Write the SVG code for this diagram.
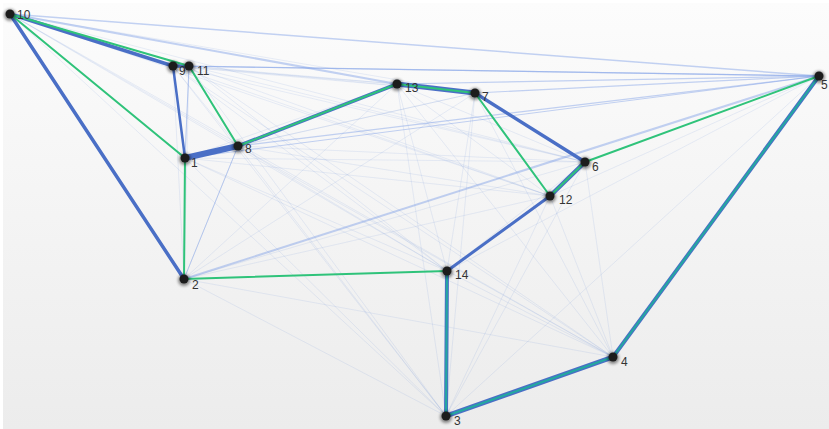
<svg xmlns="http://www.w3.org/2000/svg" width="829" height="429" viewBox="0 0 829 429">
<defs>
<linearGradient id="bg" x1="0" y1="0" x2="0" y2="1">
<stop offset="0" stop-color="#fcfcfc"/>
<stop offset="1" stop-color="#ececec"/>
</linearGradient>
<filter id="sh" x="-1" y="-1" width="3" height="3"><feGaussianBlur stdDeviation="1.6"/></filter>
<style>
.f{stroke:#5b82d8;stroke-opacity:0.12;stroke-width:1;fill:none}
.l{stroke:#7d9ee6;stroke-opacity:0.45;fill:none}
.b{stroke:#4a6fc6;fill:none;stroke-linecap:round}
.g{stroke:#2fc37a;fill:none;stroke-width:2;stroke-linecap:round}
.t{stroke:#23a8a0;fill:none;stroke-width:2;stroke-linecap:round}
.n circle.s{fill:#000;opacity:0.45}
.n circle.c{fill:#1c1c1c}
text{font-family:"Liberation Sans",Arial,sans-serif;font-size:12px;fill:#333}
</style>
</defs>
<rect x="0" y="0" width="829" height="429" fill="#ffffff"/>
<rect x="3" y="3" width="826" height="426" fill="url(#bg)"/>
<g id="connectors">
<g id="faint">
<line class="f" x1="10" y1="14" x2="189" y2="66"/>
<line class="f" x1="10" y1="14" x2="475" y2="93"/>
<line class="f" x1="10" y1="14" x2="238" y2="146"/>
<line class="f" x1="10" y1="14" x2="585" y2="162"/>
<line class="f" x1="10" y1="14" x2="550" y2="196"/>
<line class="f" x1="10" y1="14" x2="447" y2="271"/>
<line class="f" x1="10" y1="14" x2="446" y2="416"/>
<line class="f" x1="10" y1="14" x2="613" y2="357"/>
<line class="f" x1="173" y1="66" x2="397" y2="84"/>
<line class="f" x1="173" y1="66" x2="475" y2="93"/>
<line class="f" x1="173" y1="66" x2="238" y2="146"/>
<line class="f" x1="173" y1="66" x2="585" y2="162"/>
<line class="f" x1="173" y1="66" x2="550" y2="196"/>
<line class="f" x1="173" y1="66" x2="184" y2="279"/>
<line class="f" x1="173" y1="66" x2="447" y2="271"/>
<line class="f" x1="173" y1="66" x2="446" y2="416"/>
<line class="f" x1="173" y1="66" x2="613" y2="357"/>
<line class="f" x1="189" y1="66" x2="397" y2="84"/>
<line class="f" x1="189" y1="66" x2="475" y2="93"/>
<line class="f" x1="189" y1="66" x2="185" y2="158"/>
<line class="f" x1="189" y1="66" x2="585" y2="162"/>
<line class="f" x1="189" y1="66" x2="550" y2="196"/>
<line class="f" x1="189" y1="66" x2="184" y2="279"/>
<line class="f" x1="189" y1="66" x2="447" y2="271"/>
<line class="f" x1="189" y1="66" x2="446" y2="416"/>
<line class="f" x1="189" y1="66" x2="613" y2="357"/>
<line class="f" x1="397" y1="84" x2="185" y2="158"/>
<line class="f" x1="397" y1="84" x2="585" y2="162"/>
<line class="f" x1="397" y1="84" x2="550" y2="196"/>
<line class="f" x1="397" y1="84" x2="184" y2="279"/>
<line class="f" x1="397" y1="84" x2="447" y2="271"/>
<line class="f" x1="397" y1="84" x2="446" y2="416"/>
<line class="f" x1="397" y1="84" x2="613" y2="357"/>
<line class="f" x1="475" y1="93" x2="185" y2="158"/>
<line class="f" x1="475" y1="93" x2="238" y2="146"/>
<line class="f" x1="475" y1="93" x2="184" y2="279"/>
<line class="f" x1="475" y1="93" x2="447" y2="271"/>
<line class="f" x1="475" y1="93" x2="446" y2="416"/>
<line class="f" x1="475" y1="93" x2="613" y2="357"/>
<line class="f" x1="185" y1="158" x2="585" y2="162"/>
<line class="f" x1="185" y1="158" x2="550" y2="196"/>
<line class="f" x1="185" y1="158" x2="447" y2="271"/>
<line class="f" x1="185" y1="158" x2="446" y2="416"/>
<line class="f" x1="185" y1="158" x2="613" y2="357"/>
<line class="f" x1="238" y1="146" x2="585" y2="162"/>
<line class="f" x1="238" y1="146" x2="550" y2="196"/>
<line class="f" x1="238" y1="146" x2="184" y2="279"/>
<line class="f" x1="238" y1="146" x2="447" y2="271"/>
<line class="f" x1="238" y1="146" x2="446" y2="416"/>
<line class="f" x1="238" y1="146" x2="613" y2="357"/>
<line class="f" x1="585" y1="162" x2="184" y2="279"/>
<line class="f" x1="585" y1="162" x2="447" y2="271"/>
<line class="f" x1="585" y1="162" x2="446" y2="416"/>
<line class="f" x1="585" y1="162" x2="613" y2="357"/>
<line class="f" x1="550" y1="196" x2="184" y2="279"/>
<line class="f" x1="550" y1="196" x2="446" y2="416"/>
<line class="f" x1="550" y1="196" x2="613" y2="357"/>
<line class="f" x1="550" y1="196" x2="819" y2="76"/>
<line class="f" x1="184" y1="279" x2="446" y2="416"/>
<line class="f" x1="184" y1="279" x2="613" y2="357"/>
<line class="f" x1="447" y1="271" x2="613" y2="357"/>
<line class="f" x1="447" y1="271" x2="819" y2="76"/>
<line class="f" x1="446" y1="416" x2="819" y2="76"/>
<line class="f" x1="613" y1="357" x2="819" y2="76"/>
<line class="f" x1="10" y1="14" x2="184" y2="279"/>
<line class="f" x1="10" y1="14" x2="185" y2="158"/>
</g>
<g id="light">
<line class="l" x1="10" y1="14" x2="819" y2="76" stroke-width="1.5"/>
<line class="l" x1="10" y1="14" x2="397" y2="84" stroke-width="2"/>
<line class="l" x1="184" y1="279" x2="819" y2="76" stroke-width="2"/>
<line class="l" x1="189" y1="66" x2="819" y2="76" stroke-width="1.2" stroke-opacity="0.3"/>
<line class="l" x1="173" y1="66" x2="819" y2="76" stroke-width="1.2" stroke-opacity="0.3"/>
<line class="l" x1="397" y1="84" x2="819" y2="76" stroke-width="1.2" stroke-opacity="0.35"/>
<line class="l" x1="475" y1="93" x2="819" y2="76" stroke-width="1.2" stroke-opacity="0.35"/>
<line class="l" x1="238" y1="146" x2="819" y2="76" stroke-width="1.2" stroke-opacity="0.3"/>
<line class="l" x1="185" y1="158" x2="819" y2="76" stroke-width="1" stroke-opacity="0.2"/>
<line class="l" x1="238" y1="146" x2="184" y2="279" stroke-width="1" stroke-opacity="0.3"/>
<line class="l" x1="189" y1="66" x2="185" y2="158" stroke-width="1" stroke-opacity="0.3"/>
</g>
<g id="strong">
<line class="b" x1="10" y1="14" x2="184" y2="279" stroke-width="3.5" stroke="#5a7fd0"/>
<line class="b" x1="10" y1="14" x2="173" y2="66" stroke-width="3.5" stroke="#7392da"/>
<line class="b" x1="173" y1="66" x2="189" y2="66" stroke-width="3.5"/>
<line class="b" x1="173" y1="66" x2="185" y2="158" stroke-width="2.5" stroke="#86a3e3"/>
<line class="b" x1="185" y1="158" x2="238" y2="146" stroke-width="6" stroke="#3b62c3"/>
<line class="b" x1="238" y1="146" x2="397" y2="84" stroke-width="3.5" stroke="#5a7fd0"/>
<line class="b" x1="397" y1="84" x2="475" y2="93" stroke-width="5" stroke="#3e64c3"/>
<line class="b" x1="475" y1="93" x2="585" y2="162" stroke-width="3.5" stroke="#5377cc"/>
<line class="b" x1="585" y1="162" x2="550" y2="196" stroke-width="4.5" stroke="#4a6fc6"/>
<line class="b" x1="550" y1="196" x2="447" y2="271" stroke-width="3" stroke="#5a7fd0"/>
<line class="b" x1="447" y1="271" x2="446" y2="416" stroke-width="4" stroke="#4a6fc6"/>
<line class="b" x1="446" y1="416" x2="613" y2="357" stroke-width="5" stroke="#3e64c3"/>
<line class="b" x1="613" y1="357" x2="819" y2="76" stroke-width="4" stroke="#4a6fc6"/>
</g>
<g id="green">
<line class="g" x1="10" y1="14" x2="189" y2="66"/>
<line class="g" x1="10" y1="14" x2="185" y2="158"/>
<line class="g" x1="189" y1="66" x2="238" y2="146"/>
<line class="g" x1="185" y1="158" x2="184" y2="279"/>
<line class="g" x1="184" y1="279" x2="447" y2="271"/>
<line class="g" x1="475" y1="93" x2="550" y2="196"/>
<line class="g" x1="585" y1="162" x2="819" y2="76"/>
<line class="g" x1="238" y1="146" x2="397" y2="84"/>
<line class="g" x1="397" y1="84" x2="475" y2="93" stroke-width="1"/>
<line class="g" x1="585" y1="162" x2="550" y2="196" stroke-width="1.5"/>
<line class="t" x1="447" y1="271" x2="446" y2="416"/>
<line class="t" x1="446" y1="416" x2="613" y2="357"/>
<line class="t" x1="613" y1="357" x2="819" y2="76"/>
</g>
</g>
<g id="nodes">
<g id="n10" class="n"><circle class="s" cx="10" cy="15" r="6" filter="url(#sh)"/><circle class="c" cx="10" cy="14" r="4.5"/><text x="17" y="19">10</text></g>
<g id="n9" class="n"><circle class="s" cx="173" cy="67" r="6" filter="url(#sh)"/><circle class="c" cx="173" cy="66" r="4.5"/><text x="179" y="75">9</text></g>
<g id="n11" class="n"><circle class="s" cx="189" cy="67" r="6" filter="url(#sh)"/><circle class="c" cx="189" cy="66" r="4.5"/><text x="197" y="75">11</text></g>
<g id="n13" class="n"><circle class="s" cx="397" cy="85" r="6" filter="url(#sh)"/><circle class="c" cx="397" cy="84" r="4.5"/><text x="405" y="92">13</text></g>
<g id="n7" class="n"><circle class="s" cx="475" cy="94" r="6" filter="url(#sh)"/><circle class="c" cx="475" cy="93" r="4.5"/><text x="482" y="101">7</text></g>
<g id="n5" class="n"><circle class="s" cx="819" cy="77" r="6" filter="url(#sh)"/><circle class="c" cx="819" cy="76" r="4.5"/><text x="821" y="89" font-size="11">5</text></g>
<g id="n1" class="n"><circle class="s" cx="185" cy="159" r="6" filter="url(#sh)"/><circle class="c" cx="185" cy="158" r="4.5"/><text x="191" y="167">1</text></g>
<g id="n8" class="n"><circle class="s" cx="238" cy="147" r="6" filter="url(#sh)"/><circle class="c" cx="238" cy="146" r="4.5"/><text x="245" y="153">8</text></g>
<g id="n6" class="n"><circle class="s" cx="585" cy="163" r="6" filter="url(#sh)"/><circle class="c" cx="585" cy="162" r="4.5"/><text x="592" y="171">6</text></g>
<g id="n12" class="n"><circle class="s" cx="550" cy="197" r="6" filter="url(#sh)"/><circle class="c" cx="550" cy="196" r="4.5"/><text x="559" y="204">12</text></g>
<g id="n2" class="n"><circle class="s" cx="184" cy="280" r="6" filter="url(#sh)"/><circle class="c" cx="184" cy="279" r="4.5"/><text x="192" y="289">2</text></g>
<g id="n14" class="n"><circle class="s" cx="447" cy="272" r="6" filter="url(#sh)"/><circle class="c" cx="447" cy="271" r="4.5"/><text x="455" y="279">14</text></g>
<g id="n3" class="n"><circle class="s" cx="446" cy="417" r="6" filter="url(#sh)"/><circle class="c" cx="446" cy="416" r="4.5"/><text x="454" y="425">3</text></g>
<g id="n4" class="n"><circle class="s" cx="613" cy="358" r="6" filter="url(#sh)"/><circle class="c" cx="613" cy="357" r="4.5"/><text x="621" y="366">4</text></g>
</g>
</svg>
